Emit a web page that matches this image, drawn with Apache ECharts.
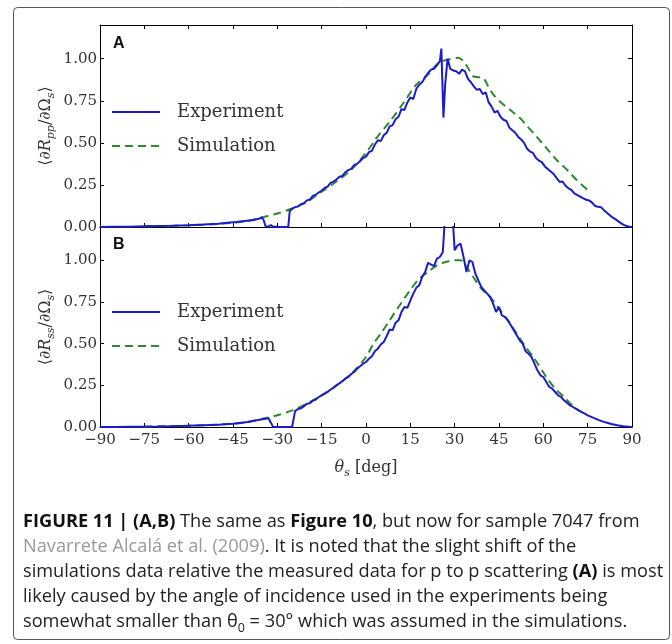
<!DOCTYPE html>
<html>
<head>
<meta charset="utf-8">
<script src="https://cdn.jsdelivr.net/npm/echarts@6/dist/echarts.min.js"></script>
<style>html,body{margin:0;padding:0;background:#fff;}#c{width:672px;height:644px;}</style>
</head>
<body>
<div id="c"></div>
<script>
// ---- data ----
var xTicks = [-90,-75,-60,-45,-30,-15,0,15,30,45,60,75,90];
var yTicks = [0,0.25,0.5,0.75,1.0];

var thetaExpA = [-90,-85,-80,-75,-70,-65,-60,-55,-50,-47,
  -44,-41,-38,-36,-35.3,-34.6,-34,-33,-32.2,-31.5,
  -30,-28,-26.3,-25.8,
  -25,-24,-23,-22,-21,-20,-19,-18,-17,-16,
  -15,-14,-13,-12,-11,-10,-9,-8,-7,-6,
  -5,-4,-3,-2,-1,0,1,2,3,4,
  5,6,7,8,9,10,11,12,13,14,
  15,16,17,18,19,20,21,22,23,24,
  25,25.5,26.2,26.8,27.6,
  28.5,29.5,30.5,31.5,32.5,33.5,34.5,35.5,36.5,37.5,
  38.5,39.5,40.5,41.5,42.5,43.5,44.5,45.5,46.5,47.5,
  48.5,49.5,50.5,51.5,52.5,53.5,54.5,55.5,56.5,57.5,
  58.5,59.5,60.5,61.5,62.5,63.5,64.5,65.5,66.5,67.5,
  68.5,69.5,70.5,71.5,72.5,73.5,74.5,75.5,76.5,77.5,
  78.5,79.5,80.5,81.5,82.5,83.5,84.5,85.5,86.5,87.5,
  88.5,89.5,90];
var expA = [0,0.001,0.002,0.004,0.006,0.008,0.011,0.015,0.02,0.025,
  0.03,0.036,0.042,0.05,0.058,0.04,0.004,0.003,0.012,0.002,
  0.001,0,0.001,0.095,
  0.108,0.118,0.122,0.135,0.141,0.158,0.163,0.185,0.192,0.205,
  0.216,0.232,0.24,0.262,0.27,0.282,0.298,0.303,0.325,0.338,
  0.345,0.368,0.375,0.392,0.41,0.418,0.445,0.452,0.49,0.515,
  0.51,0.545,0.56,0.598,0.605,0.64,0.655,0.7,0.695,0.74,
  0.77,0.76,0.82,0.845,0.86,0.89,0.915,0.935,0.94,0.96,
  0.985,1.06,0.65,0.85,1.0,
  0.94,0.93,0.925,0.91,0.935,0.925,0.88,0.86,0.835,0.815,
  0.82,0.79,0.8,0.74,0.715,0.68,0.69,0.655,0.637,0.63,
  0.59,0.575,0.56,0.535,0.52,0.5,0.465,0.448,0.44,0.41,
  0.395,0.385,0.36,0.345,0.33,0.315,0.29,0.268,0.27,0.245,
  0.23,0.22,0.2,0.19,0.18,0.17,0.162,0.158,0.145,0.125,
  0.12,0.118,0.1,0.085,0.07,0.055,0.045,0.032,0.02,0.01,
  0.004,0,0];

var thetaSimA = [-75,-60,-50,-45,-40,-35,-30,-25,-20,-15,
  -10,-5,0,3.6,8,12.6,17,21,24.5,28,
  31,33,35,36.3,38,39.7,41.5,43.1,45,48.7,
  52.1,55,57.7,61,64.5,68,71.3,75];
var simA = [0.004,0.01,0.018,0.025,0.035,0.058,0.08,0.11,0.15,0.21,
  0.27,0.34,0.44,0.53,0.625,0.735,0.845,0.905,0.975,0.995,
  1.005,0.985,0.93,0.895,0.89,0.885,0.83,0.786,0.75,0.696,
  0.647,0.59,0.537,0.47,0.398,0.34,0.279,0.22];

var thetaExpB = [-90,-85,-80,-75,-70,-65,-60,-55,-50,-45,
  -40,-37,-34,-33,-32,-31.5,-28,-25,-24.6,
  -24,-23,-22,-21,-20,-19,-18,-17,-16,-15,
  -14,-13,-12,-11,-10,-9,-8,-7,-6,-5,
  -4,-3,-2,-1,0,1,2,3,4,5,
  6,7,8,9,10,11,12,13,14,15,
  16,17,18,19,20,21,22,23,24,25,
  26,
  27,28,29,30,31,32,33,34,35,36,
  37,38,39,40,41,42,43,44,45,46,
  47,48,49,50,51,52,53,54,55,56,
  57,58,59,60,61,62,63,64,65,66,
  67,68,69,70,71,72,73,74,75,77,
  79,81,83,85,87,89,90];
var expB = [0,0,0.001,0.002,0.003,0.005,0.007,0.01,0.013,0.02,
  0.03,0.04,0.05,0.052,0.02,0.002,0,0,0.005,
  0.095,0.108,0.112,0.125,0.14,0.143,0.158,0.165,0.18,0.19,
  0.2,0.21,0.225,0.235,0.25,0.262,0.275,0.29,0.3,0.318,
  0.33,0.35,0.365,0.38,0.39,0.41,0.425,0.455,0.47,0.495,
  0.51,0.545,0.585,0.58,0.625,0.64,0.69,0.72,0.715,0.76,
  0.8,0.835,0.85,0.9,0.93,0.985,0.975,0.965,1.01,1.02,
  1.05,
  1.35,1.45,1.35,1.06,1.09,1.1,1.02,0.93,1.0,0.99,
  0.92,0.88,0.84,0.82,0.8,0.78,0.74,0.69,0.72,0.67,
  0.66,0.64,0.61,0.58,0.55,0.52,0.5,0.455,0.44,0.42,
  0.38,0.34,0.31,0.3,0.27,0.24,0.23,0.21,0.19,0.18,
  0.16,0.145,0.13,0.12,0.11,0.1,0.09,0.08,0.07,0.055,
  0.04,0.028,0.018,0.01,0.004,0.001,0];

var thetaSimB = [-75,-60,-50,-45,-40,-35,-30,-25,-20,-15,
  -10,-5,0,2.5,5,8,11,14.9,18,21,
  24,27,30,32,34,36.3,39,42,45,48,
  51,54,57,61,64,67,71,75];
var simB = [0.003,0.008,0.015,0.02,0.03,0.05,0.07,0.1,0.14,0.19,
  0.25,0.32,0.42,0.5,0.56,0.64,0.72,0.82,0.89,0.93,
  0.97,0.99,1.0,1.0,0.96,0.9,0.83,0.78,0.71,0.64,
  0.56,0.48,0.41,0.3,0.23,0.18,0.11,0.07];

var seriesNames = ['Experiment','Simulation'];
var panelLabels = ['A','B'];

// ---- build ----
function pairs(t, v){ return t.map(function(x,i){ return [x, v[i]]; }); }

var serif = 'DejaVu Serif';
var expColor = '#1c1cc8';
var simColor = '#2f8a2f';

function xAx(grid, pos, opts){
  var o = {type:'value', gridIndex:grid, position:pos, min:-90, max:90, interval:15,
    axisLine:{show:true, onZero:false, lineStyle:{color:'#000', width:1}},
    axisTick:{show:true, inside:true, length:4, lineStyle:{color:'#000'}},
    axisLabel:{show:false}, splitLine:{show:false}};
  for (var k in opts) o[k] = opts[k];
  return o;
}
function yAx(grid, pos, opts){
  var o = {type:'value', gridIndex:grid, position:pos, min:0, max:1.2, interval:0.25,
    axisLine:{show:true, onZero:false, lineStyle:{color:'#000', width:1}},
    axisTick:{show:true, inside:true, length:4, lineStyle:{color:'#000'}},
    axisLabel:{show:false}, splitLine:{show:false}};
  for (var k in opts) o[k] = opts[k];
  return o;
}
var yLabel = {show:true, fontFamily:serif, fontSize:15, color:'#333', margin:3,
  showMaxLabel:false,
  formatter:function(v){ return Math.abs(v % 0.25) < 1e-9 ? v.toFixed(2) : ''; }};
var xLabel = {show:true, fontFamily:serif, fontSize:15, color:'#333', margin:6,
  formatter:function(v){ return v < 0 ? '\u2212' + Math.abs(v) : String(v); }};

function yName(sub){
  return '{a|\u27E8\u2202}{i|R}{s|' + sub + '}{a|/\u2202\u03A9}{s|s}{a|\u27E9}';
}
var yNameStyle = {fontFamily:serif, fontSize:16, color:'#333',
  rich:{a:{fontFamily:serif, fontSize:16, color:'#333', lineHeight:22},
        i:{fontFamily:serif, fontSize:16, fontStyle:'italic', color:'#333', lineHeight:22},
        s:{fontFamily:serif, fontSize:11, fontStyle:'italic', color:'#333', lineHeight:11, padding:[11,0,0,0]}}};

var legendBase = {orient:'vertical', left:106, itemWidth:48, itemHeight:14, itemGap:16,
  data:seriesNames, itemStyle:{opacity:0},
  textStyle:{fontFamily:serif, fontSize:18, color:'#333', padding:[0,0,0,12]}};

var option = {
  animation:false,
  backgroundColor:'#fff',
  grid:[{left:100, top:25, width:532, height:202},
        {left:100, top:227, width:532, height:200}],
  xAxis:[
    xAx(0,'bottom',{}),
    xAx(1,'bottom',{axisLabel:xLabel, name:'{i|\u03B8}{s|s}{a| [deg]}', nameLocation:'middle', nameGap:30,
      nameMoveOverlap:false,
      nameTextStyle:{fontFamily:serif, fontSize:16, color:'#333',
        rich:{a:{fontFamily:serif, fontSize:16, color:'#333', lineHeight:22},
              i:{fontFamily:serif, fontSize:16, fontStyle:'italic', color:'#333', lineHeight:22},
              s:{fontFamily:serif, fontSize:11, fontStyle:'italic', color:'#333', lineHeight:11, padding:[11,0,0,0]}}}}),
    xAx(0,'top',{}),
    xAx(1,'top',{axisTick:{show:false}})
  ],
  yAxis:[
    yAx(0,'left',{axisLabel:yLabel, name:yName('pp'), nameLocation:'middle', nameGap:43, nameMoveOverlap:false, nameTextStyle:yNameStyle}),
    yAx(1,'left',{axisLabel:yLabel, name:yName('ss'), nameLocation:'middle', nameGap:43, nameMoveOverlap:false, nameTextStyle:yNameStyle}),
    yAx(0,'right',{}),
    yAx(1,'right',{})
  ],
  legend:[
    Object.assign({}, legendBase, {top:98}),
    Object.assign({}, legendBase, {top:298})
  ],
  title:[
    {text:panelLabels[0], left:108, top:31, textStyle:{fontFamily:'Liberation Sans', fontWeight:'bold', fontSize:16, color:'#111'}},
    {text:panelLabels[1], left:108, top:232, textStyle:{fontFamily:'Liberation Sans', fontWeight:'bold', fontSize:16, color:'#111'}}
  ],
  series:[
    {name:seriesNames[0], type:'line', xAxisIndex:0, yAxisIndex:0, data:pairs(thetaExpA, expA),
      symbol:'none', showSymbol:false, lineStyle:{color:expColor, width:2}, itemStyle:{color:expColor}, z:3},
    {name:seriesNames[1], type:'line', xAxisIndex:0, yAxisIndex:0, data:pairs(thetaSimA, simA),
      symbol:'none', showSymbol:false, smooth:0.3, lineStyle:{color:simColor, width:2, type:[8,5]}, itemStyle:{color:simColor}, z:2},
    {name:seriesNames[0], type:'line', xAxisIndex:1, yAxisIndex:1, data:pairs(thetaExpB, expB),
      symbol:'none', showSymbol:false, lineStyle:{color:expColor, width:2}, itemStyle:{color:expColor}, z:3},
    {name:seriesNames[1], type:'line', xAxisIndex:1, yAxisIndex:1, data:pairs(thetaSimB, simB),
      symbol:'none', showSymbol:false, smooth:0.3, lineStyle:{color:simColor, width:2, type:[8,5]}, itemStyle:{color:simColor}, z:2}
  ],
  graphic:[
    {type:'rect', shape:{x:13.5, y:7.5, width:656, height:632, r:4}, style:{fill:'none', stroke:'#555', lineWidth:1}, silent:true},
    {type:'text', left:23, top:509, style:{
      text:'{b|FIGURE 11 | (A,B)} The same as {b|Figure 10}, but now for sample 7047 from\n' +
           '{g|Navarrete Alcal\u00e1 et al. (2009)}. It is noted that the slight shift of the\n' +
           'simulations data relative the measured data for p to p scattering {b|(A)} is most\n' +
           'likely caused by the angle of incidence used in the experiments being\n' +
           'somewhat smaller than \u03B8{sub|0} = 30\u00B0 which was assumed in the simulations.',
      fontFamily:'Open Sans', fontSize:18.2, fill:'#222', lineHeight:25,
      rich:{
        b:{fontFamily:'Open Sans', fontSize:18.2, fontWeight:'bold', fill:'#111', lineHeight:25},
        g:{fontFamily:'Open Sans', fontSize:18.2, fill:'#999', lineHeight:25},
        sub:{fontFamily:'Open Sans', fontSize:12.5, fill:'#222', lineHeight:12, padding:[13,0,0,0]}
      }}}
  ]
};
var chart = echarts.init(document.getElementById('c'), null, {renderer:'canvas'});
chart.setOption(option);
</script>
</body>
</html>
